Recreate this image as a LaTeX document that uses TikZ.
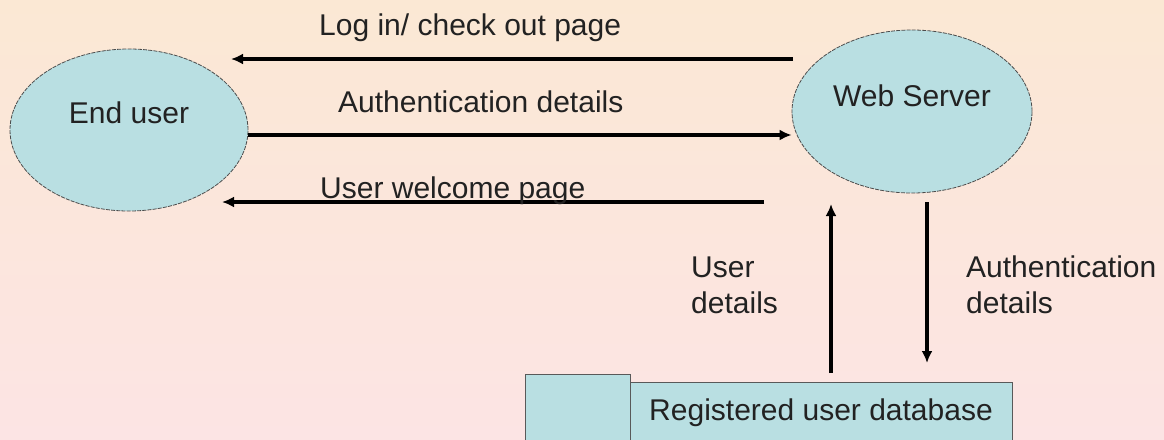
\documentclass[tikz,border=0pt]{standalone}
\usepackage{fontspec}
\setmainfont{Liberation Sans}
\usepackage{xcolor}
\usepackage{tikz}
\usetikzlibrary{positioning,calc,shapes.geometric,arrows.meta}

\definecolor{bgtop}{RGB}{251,232,212}
\definecolor{bgbot}{RGB}{252,228,228}
\definecolor{procfill}{RGB}{185,223,226}
\definecolor{txt}{RGB}{34,34,34}

\tikzset{
	proc/.style={ellipse,fill=procfill,draw=black!70,line width=0.8pt,dash pattern=on 4pt off 1.2pt,inner sep=0pt},
	lbl/.style={text=txt,font=\fontsize{30}{36}\selectfont,inner sep=0pt,align=left},
	flow/.style={line width=3.2pt,-{Latex[length=12pt,width=11pt]}},
	store/.style={fill=procfill,draw=black!65,line width=1pt}
}

\begin{document}
\begin{tikzpicture}[x=1pt,y=-1pt]
		\fill[top color=bgtop,bottom color=bgbot] (0,0) rectangle (1164,439);
		\useasboundingbox (0,0) rectangle (1164,439);
		\node[proc,minimum width=238pt,minimum height=162pt] (eu) at (129,130) {};
		\node[lbl] (eut) at ([yshift=17pt]eu.center) {End user};
		\node[proc,minimum width=240pt,minimum height=163pt] (ws) at (912,111.5) {};
		\node[lbl] (wst) at ([yshift=16pt]ws.center) {Web Server};
		\draw[store] (525,374) rectangle (630.7,450);
		\draw[store] (630.7,382) rectangle (1012,450);
		\node[lbl] (db) at (821,413) {Registered user database};
		\coordinate (s1) at (793,59);
		\coordinate (e1) at (231,59);
		\coordinate (s3) at (764,202);
		\coordinate (e3) at (222,202);
		\coordinate (up0) at (831,373);
		\coordinate (up1) at (831,204);
		\coordinate (dn0) at (927,202);
		\coordinate (dn1) at (927,363);
		\draw[flow] (s1) -- (e1);
		\draw[flow] (eu.east |- 0,135) -- (ws.west |- 0,135);
		\draw[flow] (s3) -- (e3);
		\draw[flow] (up0) -- (up1);
		\draw[flow] (dn0) -- (dn1);
		\node[lbl,anchor=west] (l1) at (319,28) {Log in/ check out page};
		\node[lbl,anchor=west] (l2) at (338,102) {Authentication details};
		\node[lbl,anchor=base west] (l3) at (320,198) {User welcome page};
		\node[lbl,anchor=west] (l4) at (691,285) {User\\details};
		\node[lbl,anchor=west] (l5) at (966,285) {Authentication\\details};
	\end{tikzpicture}
\end{document}
